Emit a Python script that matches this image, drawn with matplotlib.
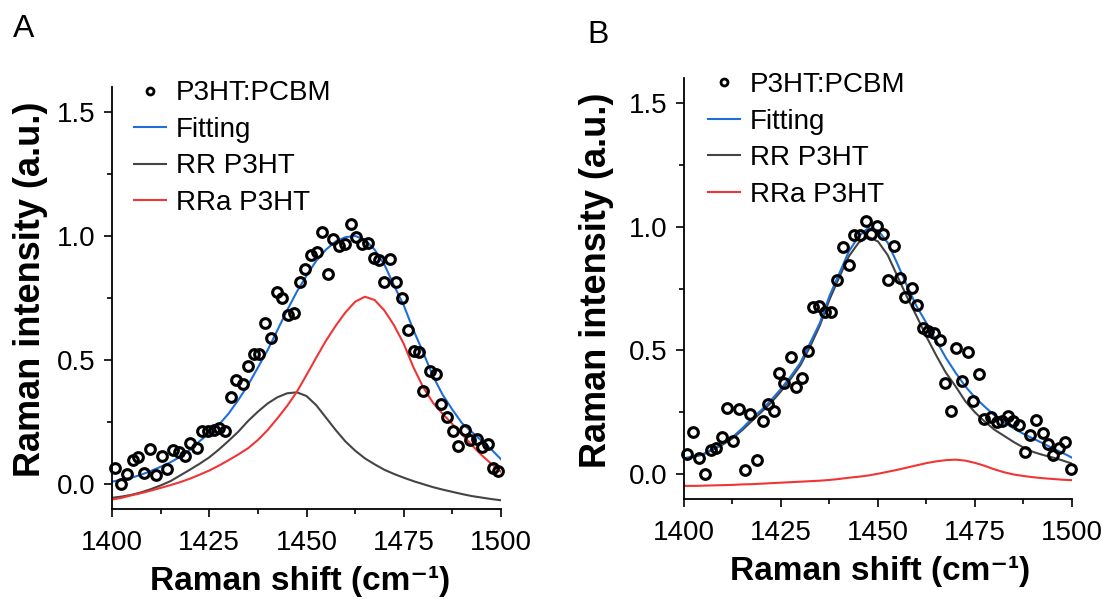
import matplotlib
matplotlib.use("Agg")
import matplotlib.pyplot as plt
from matplotlib.lines import Line2D
from matplotlib.ticker import MultipleLocator, FormatStrFormatter

plt.rcParams['font.family'] = ['Liberation Sans', 'DejaVu Sans']

# ---- data ----
# panel A: measured points (Raman shift, intensity)
a_shift = [1400.8, 1402.2, 1403.8, 1405.5, 1406.8, 1408.3, 1409.8, 1411.3, 1412.8, 1414.1,
           1415.6, 1417.3, 1418.8, 1420.1, 1421.8, 1423.1, 1424.8, 1426.2, 1427.6, 1429.1,
           1430.6, 1431.8, 1433.6, 1434.9, 1436.5, 1437.9, 1439.3, 1440.8, 1442.3, 1443.6,
           1445.2, 1446.8, 1448.2, 1449.6, 1451.1, 1452.6, 1453.9, 1455.4, 1456.9, 1458.4,
           1459.9, 1461.4, 1462.7, 1464.2, 1465.9, 1467.4, 1468.7, 1470.0, 1471.5, 1473.0,
           1474.5, 1476.2, 1477.5, 1479.0, 1480.0, 1481.7, 1483.3, 1484.6, 1486.2, 1487.6,
           1489.0, 1490.8, 1492.0, 1493.7, 1495.0, 1496.6, 1497.9, 1499.3]
a_int = [0.066, 0.000, 0.042, 0.096, 0.109, 0.046, 0.141, 0.036, 0.112, 0.062,
         0.137, 0.131, 0.115, 0.164, 0.147, 0.215, 0.215, 0.218, 0.228, 0.215,
         0.350, 0.418, 0.404, 0.478, 0.523, 0.523, 0.650, 0.587, 0.776, 0.749,
         0.681, 0.688, 0.816, 0.866, 0.925, 0.934, 1.017, 0.848, 0.988, 0.961,
         0.969, 1.050, 0.996, 0.968, 0.972, 0.911, 0.904, 0.816, 0.907, 0.816,
         0.749, 0.623, 0.537, 0.533, 0.377, 0.455, 0.442, 0.323, 0.272, 0.215,
         0.154, 0.218, 0.177, 0.181, 0.150, 0.161, 0.066, 0.055]

# fitted curves, sampled every 2.5 cm-1 from 1400 to 1500
curve_shift = [1400.0, 1402.5, 1405.0, 1407.5, 1410.0, 1412.5, 1415.0, 1417.5, 1420.0, 1422.5,
               1425.0, 1427.5, 1430.0, 1432.5, 1435.0, 1437.5, 1440.0, 1442.5, 1445.0, 1447.5,
               1450.0, 1452.5, 1455.0, 1457.5, 1460.0, 1462.5, 1465.0, 1467.5, 1470.0, 1472.5,
               1475.0, 1477.5, 1480.0, 1482.5, 1485.0, 1487.5, 1490.0, 1492.5, 1495.0, 1497.5,
               1500.0]

a_fit = [0.010, 0.018, 0.026, 0.038, 0.053, 0.070, 0.088, 0.110, 0.138, 0.173,
         0.205, 0.240, 0.285, 0.340, 0.400, 0.470, 0.540, 0.620, 0.700, 0.775,
         0.840, 0.900, 0.945, 0.978, 0.995, 1.000, 0.985, 0.945, 0.885, 0.800,
         0.720, 0.620, 0.530, 0.435, 0.360, 0.300, 0.245, 0.210, 0.175, 0.140,
         0.100]
a_rr = [-0.055, -0.050, -0.043, -0.033, -0.020, -0.005, 0.012, 0.035, 0.058, 0.082,
        0.108, 0.140, 0.175, 0.212, 0.255, 0.292, 0.325, 0.350, 0.366, 0.370,
        0.355, 0.318, 0.268, 0.218, 0.172, 0.135, 0.104, 0.080, 0.058, 0.041,
        0.026, 0.012, 0.000, -0.012, -0.022, -0.031, -0.040, -0.048, -0.054, -0.060,
        -0.065]
a_rra = [-0.062, -0.055, -0.045, -0.036, -0.026, -0.015, -0.004, 0.008, 0.022, 0.038,
         0.055, 0.075, 0.097, 0.120, 0.145, 0.178, 0.218, 0.265, 0.315, 0.372,
         0.440, 0.510, 0.578, 0.638, 0.692, 0.735, 0.755, 0.742, 0.700, 0.640,
         0.565, 0.470, 0.390, 0.328, 0.283, 0.242, 0.200, 0.157, 0.117, 0.082,
         0.050]

# panel B: measured points
b_shift = [1400.9, 1402.2, 1403.9, 1405.4, 1406.9, 1408.2, 1409.7, 1411.2, 1412.7, 1414.2,
           1415.7, 1417.0, 1418.7, 1420.3, 1421.6, 1423.2, 1424.6, 1425.9, 1427.6, 1428.9,
           1430.5, 1432.0, 1433.3, 1434.9, 1436.3, 1437.9, 1439.5, 1440.9, 1442.5, 1443.8,
           1445.4, 1446.8, 1448.2, 1449.8, 1451.4, 1452.7, 1454.2, 1455.7, 1457.0, 1458.7,
           1460.0, 1461.5, 1463.0, 1464.5, 1466.0, 1467.3, 1468.7, 1470.1, 1471.7, 1473.3,
           1474.6, 1476.1, 1477.4, 1479.0, 1480.6, 1481.9, 1483.4, 1484.9, 1486.3, 1487.9,
           1489.3, 1490.7, 1492.4, 1493.7, 1495.2, 1496.7, 1498.2, 1499.7]
b_int = [0.081, 0.171, 0.067, 0.003, 0.097, 0.108, 0.151, 0.266, 0.135, 0.262,
         0.016, 0.243, 0.059, 0.216, 0.283, 0.256, 0.408, 0.367, 0.475, 0.351,
         0.387, 0.499, 0.675, 0.680, 0.657, 0.657, 0.783, 0.918, 0.846, 0.968,
         0.968, 1.022, 0.972, 1.001, 0.972, 0.783, 0.920, 0.792, 0.715, 0.752,
         0.684, 0.590, 0.580, 0.572, 0.542, 0.367, 0.256, 0.509, 0.378, 0.495,
         0.297, 0.405, 0.225, 0.232, 0.212, 0.216, 0.235, 0.216, 0.198, 0.090,
         0.158, 0.219, 0.167, 0.124, 0.077, 0.108, 0.131, 0.023]

b_fit = [0.065, 0.072, 0.082, 0.103, 0.125, 0.150, 0.185, 0.225, 0.260, 0.300,
         0.345, 0.395, 0.450, 0.530, 0.610, 0.720, 0.810, 0.900, 0.960, 0.995,
         0.985, 0.935, 0.850, 0.760, 0.677, 0.610, 0.540, 0.470, 0.410, 0.355,
         0.310, 0.273, 0.238, 0.210, 0.185, 0.163, 0.144, 0.125, 0.105, 0.087,
         0.067]
b_rr = [0.062, 0.070, 0.080, 0.100, 0.120, 0.145, 0.178, 0.215, 0.252, 0.290,
        0.335, 0.385, 0.440, 0.515, 0.600, 0.705, 0.795, 0.880, 0.935, 0.958,
        0.940, 0.885, 0.800, 0.715, 0.637, 0.555, 0.480, 0.410, 0.355, 0.295,
        0.250, 0.213, 0.180, 0.155, 0.130, 0.108, 0.090, 0.078, 0.068, 0.056,
        0.043]
b_rra = [-0.047, -0.047, -0.046, -0.045, -0.044, -0.043, -0.041, -0.040, -0.038, -0.036,
         -0.034, -0.032, -0.030, -0.028, -0.026, -0.023, -0.019, -0.014, -0.010, -0.005,
         0.002, 0.010, 0.018, 0.027, 0.036, 0.045, 0.052, 0.057, 0.059, 0.055,
         0.046, 0.034, 0.020, 0.008, -0.001, -0.007, -0.012, -0.016, -0.019, -0.022,
         -0.024]

labels = ['P3HT:PCBM', 'Fitting', 'RR P3HT', 'RRa P3HT']
c_fit = '#1f6fd8'
c_rr = '#444444'
c_rra = '#f03535'

fig = plt.figure(figsize=(11.08, 6.0), dpi=100)
ax_a = fig.add_axes([0.1011, 0.1517, 0.3511, 0.7033])
ax_b = fig.add_axes([0.6173, 0.1683, 0.3502, 0.7017])


def draw_panel(ax, px, py, fit, rr, rra, leg_xy, ylab_xy, xlab_xy):
    ax.plot(curve_shift, rr, color=c_rr, lw=1.5)
    ax.plot(curve_shift, rra, color=c_rra, lw=1.5)
    ax.plot(curve_shift, fit, color=c_fit, lw=1.5)
    ax.plot(px, py, 'o', mfc='none', mec='black', ms=7, mew=2.2, clip_on=False)

    ax.set_xlim(1400, 1500)
    ax.set_ylim(-0.1, 1.6)
    ax.xaxis.set_major_locator(MultipleLocator(25))
    ax.xaxis.set_minor_locator(MultipleLocator(12.5))
    ax.yaxis.set_major_locator(MultipleLocator(0.5))
    ax.yaxis.set_minor_locator(MultipleLocator(0.25))
    ax.yaxis.set_major_formatter(FormatStrFormatter('%.1f'))
    for s in ['top', 'right']:
        ax.spines[s].set_visible(False)
    for s in ['left', 'bottom']:
        ax.spines[s].set_linewidth(1.3)
    ax.tick_params(which='major', direction='out', length=6, width=1.2, labelsize=20)
    ax.tick_params(which='minor', direction='out', length=3.5, width=1.2)
    ax.tick_params(axis='x', which='major', pad=9)
    ax.tick_params(axis='y', which='major', pad=6)

    ax.set_xlabel('Raman shift (cm\u207b\u00b9)', fontsize=24, fontweight='bold')
    ax.set_ylabel('Raman intensity (a.u.)', fontsize=26, fontweight='bold')
    ax.xaxis.set_label_coords(*xlab_xy)
    ax.yaxis.set_label_coords(*ylab_xy)

    handles = [Line2D([], [], ls='none', marker='o', mfc='none', mec='black', ms=5, mew=2),
               Line2D([], [], color=c_fit, lw=1.5),
               Line2D([], [], color=c_rr, lw=1.5),
               Line2D([], [], color=c_rra, lw=1.5)]
    ax.legend(handles, labels, loc='upper left', bbox_to_anchor=leg_xy, frameon=False,
              fontsize=20, handlelength=1.15, handletextpad=0.35, labelspacing=0.38,
              borderpad=0, borderaxespad=0)


draw_panel(ax_a, a_shift, a_int, a_fit, a_rr, a_rra,
           (0.057, 1.016), (-0.165, 0.52), (0.483, -0.135))
draw_panel(ax_b, b_shift, b_int, b_fit, b_rr, b_rra,
           (0.062, 1.014), (-0.18, 0.52), (0.505, -0.135))

fig.text(0.012, 0.938, 'A', fontsize=23)
fig.text(0.530, 0.928, 'B', fontsize=23)

fig.savefig('out.png', dpi=100)
